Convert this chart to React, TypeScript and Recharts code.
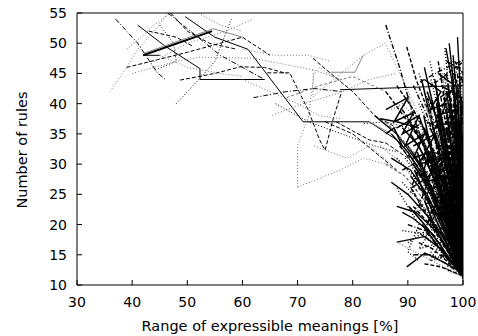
import { Line, LineChart, XAxis, YAxis } from 'recharts';

type Run = [number, number][];

const xTicks = [30, 40, 50, 60, 70, 80, 90, 100];
const yTicks = [10, 15, 20, 25, 30, 35, 40, 45, 50, 55];

// runs in the sparse upper-left / middle part of the plot
const sparseRuns: Run[] = [
  [[41, 53], [46, 49.5], [52.3, 45.8], [52.3, 44], [64, 44]],
  [[49.6, 54.4], [55, 51], [61, 49], [66, 43], [71, 37], [83, 37], [88, 34], [93, 27], [97, 19], [100, 12]],
  [[42, 48], [54.5, 52]],
  [[42.3, 48.4], [54.7, 52.4], [60, 51]],
  [[42, 48], [45, 48]],
  [[37, 54], [41, 50], [44.5, 45.2], [46, 44]],
  [[36, 42], [39, 46], [41, 49], [44, 52], [46.5, 55]],
  [[39, 46], [50, 48.5], [60, 51], [65, 48]],
  [[48, 40], [52.3, 44.2], [55, 47], [58, 54]],
  [[48.7, 43.9], [55, 45], [59.6, 46.1], [64, 46], [68, 45]],
  [[39, 49], [41, 50.5], [44, 53], [47, 55], [52, 55]],
  [[45, 53], [47.5, 50], [48, 47], [44, 45.5]],
  [[44, 47], [50, 50], [57, 52], [62, 54]],
  [[46.5, 55], [56, 48], [60, 46], [64, 44]],
  [[40, 45], [48, 47], [52.3, 47.7], [62, 47.5], [72.8, 45.6], [78, 44]],
  [[45, 48], [50, 46], [56, 45], [60, 44.5]],
  [[43, 52], [48, 51], [51, 49.5]],
  [[52, 55], [56, 53], [60, 52]],
  [[47, 55], [50, 52], [54, 50], [59, 49]],
  [[64.5, 45.1], [68.6, 45.1], [69.2, 43.9], [71.9, 39], [74, 34], [75, 32.3], [76.4, 37.3], [78, 42]],
  [[70, 26.2], [70, 33], [72, 38], [73, 45], [74, 46], [77, 44]],
  [[70, 26.2], [77.7, 29], [82, 31], [86, 30]],
  [[65.4, 38.1], [71, 40], [77.7, 41.8], [83, 44], [88, 45]],
  [[60, 49], [66, 48], [72, 48], [76, 47]],
  [[72.8, 47.5], [76, 45], [80, 42], [84, 38], [88, 36]],
  [[72.8, 45.6], [72.8, 41.1], [78, 45.1], [82, 48], [85.9, 50], [89.8, 42.6], [92, 38]],
  [[75.9, 45.2], [80.4, 45.2], [81.9, 48]],
  [[77.7, 42.3], [100, 43]],
  [[62, 41], [68, 42], [73, 42.5], [78, 42]],
  [[66, 40], [72, 37], [78, 35], [84, 33], [88, 32]],
  [[68, 41], [74, 43], [80, 44.5], [86, 42]],
  [[75, 37], [80, 35], [84, 32], [88, 29]],
  [[73, 33], [79, 31], [83, 33], [87, 30]],
  [[60, 44], [65, 42], [70, 40], [74, 38], [78, 37.5]],
  [[77, 37], [80, 35.5], [83, 34], [86, 33.5], [90, 31]],
  [[83, 37], [85, 36], [87, 35]],
  [[82, 36.7], [86, 37], [90, 36], [93, 35]],
];

const sparseKinds = [
  'solid', 'solid', 'thick', 'graySolid', 'solid', 'dashdot', 'grayDot', 'dash', 'dot', 'dash',
  'grayDot', 'dot', 'grayDot', 'dashdot', 'grayDot', 'grayDot', 'dash', 'grayDot', 'dash', 'dash',
  'grayDot', 'grayDot', 'grayDot', 'grayDot', 'dash', 'grayDot', 'graySolid', 'solid', 'dashdot', 'dot',
  'grayDash', 'dash', 'grayDot', 'grayDot', 'dash', 'graySolid', 'dot',
];

// runs that pile up near the right edge and converge to ~(100, 12)
const denseRuns: Run[] = [
  [[86, 53], [88.5, 46], [91, 38], [94, 30], [97, 21], [100, 12]],
  [[89.8, 49.4], [91.5, 44], [94, 38], [96.5, 29], [99, 18], [100, 12.5]],
  [[96.7, 49.2], [97.6, 41], [98.6, 30], [99.4, 20], [100, 12]],
  [[96.9, 49.2], [98.2, 42.8], [99, 33], [99.7, 22], [100, 13]],
  [[92.5, 44], [94, 38], [96, 31], [98, 23], [100, 13]],
  [[88, 40], [91, 36], [94, 31], [97, 24], [100, 14]],
  [[84, 38], [88, 35], [92, 30], [96, 23], [100, 12]],
  [[86, 42], [90, 37], [93, 33], [96, 26], [100, 15]],
  [[90, 41], [92, 35], [95, 29], [98, 20], [100, 11.5]],
  [[93, 46], [94.5, 40], [96, 34], [98, 26], [100, 16]],
  [[98, 47], [98.6, 40], [99.2, 31], [100, 22]],
  [[99, 45], [99.4, 36], [100, 28]],
  [[95, 43], [96.5, 36], [98, 28], [99.3, 19], [100, 12]],
  [[88, 31], [91, 28], [94, 24], [97, 18], [100, 12]],
  [[87, 27], [90, 25], [94, 21], [97, 17], [100, 12.5]],
  [[88, 17.1], [93, 18], [96, 16], [100, 11.5]],
  [[88, 17.1], [100, 11.3]],
  [[89.8, 13], [93.1, 15.3], [96, 14], [100, 12]],
  [[91, 23], [94, 20], [97, 16], [100, 12]],
  [[92, 26], [95, 22], [97.5, 18], [100, 13]],
  [[90, 33], [93, 29], [96, 22], [98.5, 16], [100, 12]],
  [[94, 42], [95.5, 37], [97, 31], [98.5, 24], [100, 14]],
  [[97, 45], [98, 38], [99, 29], [100, 18]],
  [[95.5, 47], [96.8, 40], [98, 33], [99.2, 23], [100, 13.5]],
  [[91, 39], [93.5, 34], [96, 28], [98, 21], [100, 12]],
  [[89, 36], [92, 33], [95, 27], [97.5, 20], [100, 12.5]],
  [[93, 36], [95, 31], [97, 25], [99, 17], [100, 11.5]],
  [[94, 33], [96, 28], [98, 22], [100, 14]],
  [[95, 30], [97, 26], [98.5, 20], [100, 13]],
  [[96, 38], [97.5, 32], [99, 24], [100, 16]],
  [[97.5, 36], [98.5, 30], [99.5, 22], [100, 14]],
  [[98.5, 42], [99, 35], [99.6, 26], [100, 17]],
  [[99.5, 47], [99.7, 40], [100, 33]],
  [[98, 44], [98.8, 37], [99.5, 27], [100, 19]],
  [[96, 41], [97, 36], [98.2, 29], [99.4, 20], [100, 12]],
  [[92, 40], [94.5, 35], [97, 27], [99, 19], [100, 12]],
  [[90, 37.5], [93, 33], [95.5, 27], [98, 19], [100, 11]],
  [[87, 35], [90, 32], [93.5, 27], [96.5, 20], [100, 12]],
  [[85, 33], [89, 30], [93, 25], [97, 18], [100, 12]],
  [[91, 30], [94, 26], [96.5, 21], [98.5, 16], [100, 12]],
  [[93, 27], [95.5, 23], [98, 18], [100, 13]],
  [[94, 24], [96.5, 20], [98.5, 16], [100, 12]],
  [[95, 20], [97, 17], [99, 14], [100, 12]],
  [[96, 26], [97.5, 22], [99, 17], [100, 13]],
  [[97, 30], [98.3, 25], [99.3, 19], [100, 14]],
  [[98, 34], [99, 28], [99.7, 21], [100, 15]],
  [[99, 39], [99.5, 32], [100, 25]],
  [[97, 42], [98, 36], [99.1, 28], [100, 20]],
  [[95.5, 39], [96.8, 34], [98.2, 27], [99.5, 19], [100, 13]],
  [[93.5, 39], [95.5, 34], [97.5, 27], [99.3, 19], [100, 12]],
  [[92, 38], [94, 33], [96.5, 26], [98.8, 18], [100, 12.5]],
  [[89, 39], [92, 35], [95, 30], [98, 21], [100, 13]],
  [[86, 37], [89, 34], [92, 31], [95, 26], [98, 18], [100, 12]],
  [[87, 31], [90.5, 29], [93.5, 25], [96.5, 19], [100, 12]],
  [[89, 27], [92, 24], [95, 20], [97.5, 16], [100, 12]],
  [[90, 20], [93, 19], [96, 16], [98.5, 13.5], [100, 11.5]],
  [[92, 17], [94.5, 16], [97, 14], [100, 11.5]],
  [[93, 22], [95.5, 19], [98, 15], [100, 12]],
  [[94, 29], [96, 25], [98, 20], [100, 14]],
  [[95, 35], [96.5, 31], [98, 26], [99.5, 18], [100, 13]],
  [[96.5, 33], [97.8, 28], [99, 22], [100, 15]],
  [[97.5, 40], [98.5, 33], [99.4, 25], [100, 17]],
  [[98.8, 44], [99.3, 38], [99.8, 30], [100, 22]],
  [[99.3, 43], [99.6, 35], [100, 26]],
  [[98.5, 38], [99.2, 31], [99.8, 23], [100, 16]],
  [[97.8, 32], [98.8, 26], [99.6, 19], [100, 13]],
  [[96.8, 28], [98, 23], [99.2, 17], [100, 12.5]],
  [[95.8, 24], [97.3, 20], [98.8, 16], [100, 12]],
  [[94.8, 26], [96.5, 22], [98.2, 17], [100, 12.5]],
  [[93.8, 31], [95.8, 27], [97.8, 21], [99.5, 15], [100, 12]],
  [[92.8, 34], [95, 29], [97.2, 23], [99.2, 16], [100, 12]],
  [[91.8, 36], [94.2, 31], [96.8, 24], [99, 17], [100, 12]],
  [[90.5, 35], [93.2, 31], [96, 25], [98.6, 17], [100, 12]],
  [[88.5, 33], [91.5, 30], [94.5, 26], [97.5, 19], [100, 12]],
  [[86, 30], [89.5, 28], [93, 24], [96.5, 18], [100, 12]],
  [[88, 23], [91.5, 22], [95, 19], [98, 15], [100, 12]],
  [[89, 19], [92.5, 18.5], [96, 16], [98.5, 13.5], [100, 11.5]],
  [[91, 15], [94, 15], [97, 13.5], [100, 11.5]],
  [[93, 13.5], [96, 13], [100, 11.5]],
  [[94.5, 18], [97, 16], [99, 13.5], [100, 12]],
  [[96, 19], [97.8, 16.5], [99.3, 13.5], [100, 12]],
  [[97, 22], [98.4, 19], [99.5, 15], [100, 13]],
  [[98, 26], [99, 22], [99.7, 17], [100, 14]],
  [[99, 31], [99.5, 26], [100, 20]],
  [[99.5, 37], [99.8, 31], [100, 27]],
  [[97.2, 38], [98.2, 32], [99.2, 25], [100, 17]],
  [[95.2, 41], [96.6, 35], [98.2, 28], [99.6, 19], [100, 13]],
  [[94.2, 44], [95.8, 38], [97.6, 30], [99.3, 20], [100, 13]],
  [[91, 43], [93.5, 38], [96, 31], [98.5, 22], [100, 13]],
  [[88, 43], [91, 39], [94, 34], [97, 26], [100, 14]],
  [[94, 47], [95.2, 42], [96.8, 35], [98.5, 26], [100, 15]],
  [[97.5, 50], [98.2, 44], [99, 36], [99.7, 26], [100, 18]],
  [[99, 51], [99.4, 44], [99.8, 35], [100, 30]],
  [[96, 46], [97.2, 40], [98.5, 33], [99.6, 24], [100, 16]],
  [[98.2, 48], [98.9, 41], [99.5, 33], [100, 24]],
  [[92.2, 34.5], [94.5, 29], [97, 22], [99.5, 14], [100, 12]],
  [[93, 40], [95, 36], [97, 30], [99, 22], [100, 16]],
  [[90.5, 28], [93.5, 24.5], [96.5, 20], [99, 15], [100, 12]],
  [[89.5, 31], [92.5, 27.5], [95.5, 23], [98.5, 17], [100, 12]],
  [[94, 36], [96, 32], [98, 25], [99.6, 17], [100, 13]],
  [[95, 27], [97, 23], [98.8, 18], [100, 13]],
  [[96.5, 30], [98, 26], [99.3, 20], [100, 15]],
  [[97.5, 27], [98.6, 23], [99.6, 18], [100, 14]],
  [[98.5, 30], [99.2, 25], [99.8, 19], [100, 15]],
  [[99.2, 34], [99.6, 29], [100, 23]],
  [[98.6, 36], [99.3, 30], [99.9, 22]],
  [[97.8, 41], [98.6, 35], [99.4, 28], [100, 20]],
  [[96.3, 44], [97.5, 38], [98.8, 31], [99.8, 21], [100, 14]],
  [[93.5, 42], [95.2, 37.5], [97.2, 31], [99, 23], [100, 15]],
  [[92, 45], [93.8, 40], [96, 33], [98.3, 24], [100, 15]],
  [[92.2, 43.6], [96, 45.5], [100, 47.2]],
  [[94, 42.8], [100, 46.9]],
  [[88, 26], [90, 23], [92, 20], [90, 15.5], [92, 14]],
  [[89, 22], [91, 21], [93, 19.5], [95, 18]],
  [[86, 35], [87.5, 36], [89, 33]],
  [[87, 39], [89, 40], [91, 38]],
  [[85, 37.5], [88, 37], [92, 36]],
];

// jittery runs that wander inside the dense block before settling
const jitterRuns: Run[] = [
  [[96, 43], [99.8, 41], [97, 37], [100, 34], [97.5, 30], [100, 26], [98, 22], [100, 18], [99, 14], [100, 12]],
  [[98, 45], [100, 44], [98.5, 40], [100, 38], [98.8, 33], [100, 31], [99, 26], [100, 23], [99.4, 17], [100, 13]],
  [[95, 38], [99, 39], [96, 33], [99.5, 32], [96.5, 27], [99.5, 26], [97, 21], [99.6, 19], [98, 15], [100, 12]],
  [[94, 34], [98, 36], [95, 29], [98.5, 30], [96, 24], [99, 23], [97, 18], [100, 16], [99, 13]],
  [[93, 30], [97, 32], [94.5, 26], [98, 27], [95.5, 21], [98.5, 20], [97, 16], [100, 14]],
  [[97, 47], [99, 46], [97.8, 42], [99.6, 40], [98.2, 36], [99.8, 34], [98.6, 29], [100, 27], [99.2, 21], [100, 19]],
  [[99, 42], [100, 40], [99.3, 36], [100, 34], [99.5, 30], [100, 28], [99.6, 24], [100, 21], [99.8, 16]],
  [[92, 28], [96, 30], [93, 24], [97, 25], [94, 20], [97.5, 19], [96, 15], [100, 13]],
  [[95.5, 45], [98.5, 43], [96.5, 40], [99, 37], [97, 34], [99.5, 35], [97.5, 30], [99.8, 29], [98, 24], [100, 22]],
  [[90, 25], [94, 27], [91, 22], [95, 23], [92.5, 18], [96, 19], [94, 15], [98, 14]],
  [[96.5, 36], [99.3, 34], [97, 31], [99.6, 28], [97.8, 25], [100, 24], [98.3, 20], [100, 17]],
  [[93.5, 37], [97.5, 35], [94.5, 32], [98, 31], [95.5, 28], [98.6, 25], [96.5, 23], [99, 20]],
  [[91, 33], [95, 35], [92, 30], [96, 31], [93, 27], [96.8, 28], [94.5, 22], [98, 21]],
  [[94, 40], [97.5, 42], [95, 37], [98.5, 38], [96, 34], [99, 32], [97, 28], [99.5, 27]],
  [[97.5, 38], [100, 37], [98, 33], [100, 32], [98.4, 28], [100, 25], [98.7, 21], [100, 20], [99, 16], [100, 14]],
  [[96, 30], [99, 30], [96.8, 26], [99.5, 24], [97.5, 20], [99.8, 18], [98.5, 15], [100, 13]],
  [[95, 25], [98, 26], [96, 21], [98.8, 22], [97, 18], [99.5, 17], [98.5, 14], [100, 12]],
  [[89, 29], [93, 31], [90.5, 26], [94, 28], [92, 23], [95, 24], [93.5, 20]],
  [[88, 36], [92, 38], [89.5, 33], [93, 35], [91, 31], [94, 32], [92.5, 28]],
  [[98.5, 47], [100, 45], [99, 42], [100, 39], [99.2, 35], [100, 33]],
  [[93, 44], [96, 42], [94, 39], [97, 40], [95, 36], [97.8, 37]],
  [[90, 17], [95, 20], [92, 16], [96, 17], [94, 14], [98, 15], [97, 12.5], [100, 11.5]],
  [[86, 39], [90, 41], [87.5, 37], [91, 38.5], [89, 35], [92, 36.5]],
  [[97, 33], [99.8, 32], [97.5, 29], [100, 29], [98, 26], [100, 25.5], [98.6, 23]],
];

// steep runs that fill the solid black block at the right edge
const fillRuns: Run[] = [
  [[95.2, 40], [97, 30], [98.8, 20], [100, 13]],
  [[95.8, 37], [97.4, 28], [99, 19], [100, 14]],
  [[94.6, 36], [96.4, 27], [98.4, 18], [100, 12.5]],
  [[94, 32], [96, 24], [98, 17], [100, 12]],
  [[93.4, 28], [95.6, 22], [97.8, 16], [100, 12]],
  [[93, 24], [95.2, 19], [97.6, 15], [100, 12]],
  [[92.6, 20], [95, 17], [97.4, 14], [100, 11.8]],
  [[96.4, 42], [97.8, 33], [99.2, 23], [100, 15]],
  [[97, 39], [98.2, 30], [99.4, 21], [100, 16]],
  [[97.6, 36], [98.6, 28], [99.6, 20], [100, 17]],
  [[98.2, 33], [99, 26], [99.8, 19]],
  [[98.8, 30], [99.4, 24], [100, 19]],
  [[99.4, 27], [99.8, 21], [100, 18]],
  [[96.2, 34], [97.6, 26], [99, 18], [100, 14]],
  [[95.6, 31], [97.2, 24], [98.8, 17], [100, 13]],
  [[95, 28], [96.8, 22], [98.6, 16], [100, 12.5]],
  [[94.4, 25], [96.4, 20], [98.4, 15], [100, 12]],
  [[93.8, 21], [96, 17.5], [98.2, 14], [100, 12]],
  [[96.8, 24], [98.2, 19], [99.4, 15], [100, 13]],
  [[97.4, 21], [98.6, 17], [99.6, 14], [100, 12.5]],
  [[98, 18], [99, 15.5], [99.8, 13]],
  [[97.8, 27], [98.8, 22], [99.6, 17], [100, 14.5]],
  [[98.4, 24], [99.2, 20], [99.9, 16]],
  [[99, 21], [99.6, 17], [100, 15]],
  [[96.6, 45], [97.9, 37], [99.1, 28], [100, 21]],
  [[97.3, 43], [98.5, 35], [99.5, 27], [100, 22]],
  [[94.9, 44], [96.3, 36], [97.9, 27], [99.3, 18], [100, 13]],
  [[93.6, 41], [95.3, 33], [97.1, 25], [99, 17], [100, 12]],
  [[92.9, 38], [94.8, 30], [96.8, 23], [98.9, 16], [100, 12]],
  [[92.3, 35], [94.4, 28], [96.6, 21], [98.7, 15], [100, 12]],
  [[91.7, 32], [94, 26], [96.3, 20], [98.6, 14.5], [100, 12]],
  [[91.2, 29], [93.6, 24], [96, 19], [98.4, 14], [100, 11.8]],
  [[90.6, 26], [93.2, 22], [95.8, 18], [98.3, 14], [100, 11.8]],
  [[90.2, 23], [93, 20], [95.6, 17], [98.2, 13.5], [100, 11.6]],
  [[91.5, 19], [94.4, 17], [97, 14.5], [100, 12]],
  [[99.6, 40], [99.8, 33], [100, 26]],
  [[99.1, 37], [99.5, 30], [100, 24]],
  [[98.3, 40], [99, 32], [99.7, 25], [100, 21]],
];

const denseCycle = ['dashdot', 'dash', 'dot', 'solid', 'solid', 'grayDot', 'solid', 'dash', 'grayDash', 'solid', 'dot'];
const jitterCycle = ['solid', 'dash', 'solid', 'dot', 'solid', 'dashdot'];
const fillCycle = ['solid', 'solid', 'dash', 'solid', 'dot'];

const strokeKinds: Record<string, { stroke: string; dash?: string; width: number }> = {
  solid: { stroke: '#000', width: 1 },
  thick: { stroke: '#000', width: 2 },
  graySolid: { stroke: '#888', width: 1 },
  dash: { stroke: '#000', dash: '4 2', width: 1 },
  dot: { stroke: '#000', dash: '1 2', width: 1 },
  dashdot: { stroke: '#000', dash: '5 2 1 2', width: 1 },
  grayDot: { stroke: '#777', dash: '1 2', width: 1 },
  grayDash: { stroke: '#777', dash: '3 2', width: 1 },
};

const toPoints = (run: Run) => run.map(([x, y]) => ({ x, y }));

const tickFont = { fontFamily: 'DejaVu Sans', fontSize: 14, fill: '#000' };

function XTitle() {
  return (
    <text x={270} y={331} textAnchor="middle" fontFamily="DejaVu Sans" fontSize={14.5} fill="#000">
      Range of expressible meanings [%]
    </text>
  );
}

function YTitle() {
  return (
    <text x={27} y={150} transform="rotate(-90 27 150)" textAnchor="middle" fontFamily="DejaVu Sans" fontSize={14.5} fill="#000">
      Number of rules
    </text>
  );
}

export default function App() {
  const runs = [
    ...sparseRuns.map((r, i) => ({ data: toPoints(r), kind: sparseKinds[i] ?? 'grayDot', w: 1 })),
    ...denseRuns.map((r, i) => ({ data: toPoints(r), kind: denseCycle[i % denseCycle.length], w: 1.4 })),
    ...jitterRuns.map((r, i) => ({ data: toPoints(r), kind: jitterCycle[i % jitterCycle.length], w: 1.5 })),
    ...fillRuns.map((r, i) => ({ data: toPoints(r), kind: fillCycle[i % fillCycle.length], w: 1.6 })),
  ];
  return (
    <div style={{ position: 'fixed', left: 0, top: 0, width: 478, height: 336, background: '#fff' }}>
      <LineChart width={478} height={336} margin={{ top: 12, right: 14, bottom: 0, left: 0 }}>
        <XAxis
          xAxisId="b" type="number" dataKey="x" domain={[30, 100]} ticks={xTicks} allowDataOverflow
          height={51} tickSize={-5} tickMargin={17} tick={tickFont}
          axisLine={{ stroke: '#000' }} tickLine={{ stroke: '#000' }} label={<XTitle />}
        />
        <XAxis
          xAxisId="t" orientation="top" type="number" dataKey="x" domain={[30, 100]} ticks={xTicks}
          height={1} tickSize={-5} tick={false} axisLine={{ stroke: '#000' }} tickLine={{ stroke: '#000' }}
        />
        <YAxis
          yAxisId="l" type="number" domain={[10, 55]} ticks={yTicks} allowDataOverflow width={77}
          tickSize={-5} tickMargin={15} tick={tickFont}
          axisLine={{ stroke: '#000' }} tickLine={{ stroke: '#000' }} label={<YTitle />}
        />
        <YAxis
          yAxisId="r" orientation="right" type="number" domain={[10, 55]} ticks={yTicks} width={1}
          tickSize={-5} tick={false} axisLine={{ stroke: '#000' }} tickLine={{ stroke: '#000' }}
        />
        {runs.map((r, i) => {
          const s = strokeKinds[r.kind];
          return (
            <Line
              key={i} xAxisId="b" yAxisId="l" data={r.data} dataKey="y" type="linear"
              stroke={s.stroke} strokeWidth={s.width === 1 ? r.w : s.width} strokeDasharray={s.dash}
              dot={false} activeDot={false} isAnimationActive={false}
            />
          );
        })}
      </LineChart>
    </div>
  );
}
